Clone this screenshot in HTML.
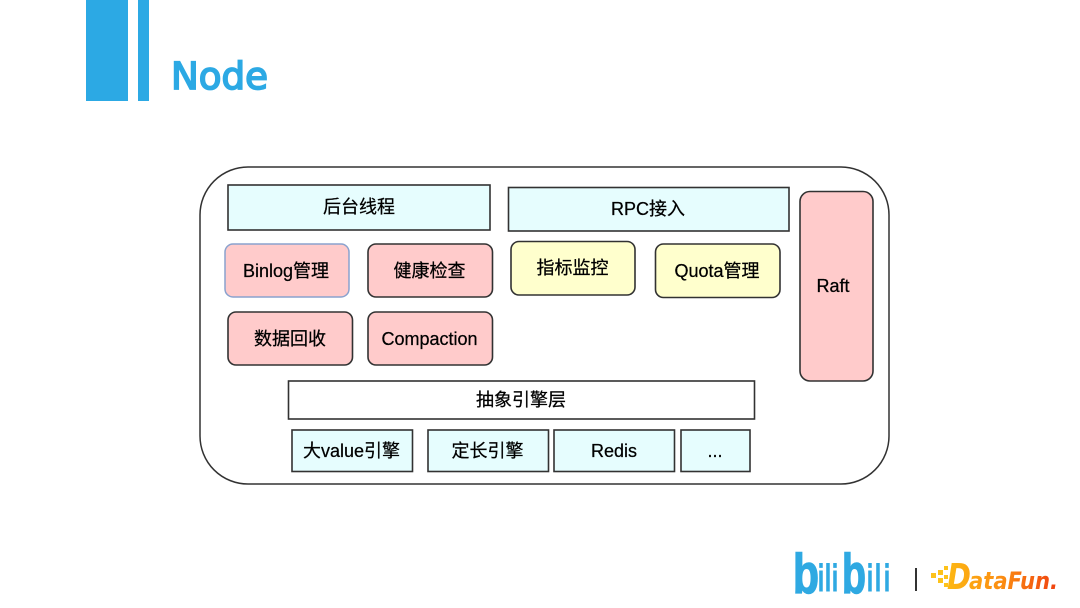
<!DOCTYPE html>
<html><head><meta charset="utf-8"><style>
html,body{margin:0;padding:0;background:#fff;width:1080px;height:608px;overflow:hidden}
svg{display:block}
.t{font-family:"Liberation Sans","Noto Sans CJK SC",sans-serif;font-size:18px;fill:#000;text-anchor:middle;stroke:#000;stroke-width:0.25}
.b{stroke:#333;stroke-width:1.6}
.bl{font-family:"Liberation Sans",sans-serif;font-weight:700;fill:#2fa9e2;stroke:#2fa9e2}
.df{font-family:"DejaVu Sans",sans-serif;font-weight:700;font-style:italic;fill:url(#g)}
</style></head><body>
<svg width="1080" height="608" viewBox="0 0 1080 608" xmlns="http://www.w3.org/2000/svg">
<defs>
<linearGradient id="g" gradientUnits="userSpaceOnUse" x1="947" x2="1058" y1="0" y2="0"><stop offset="0" stop-color="#fdb813"/><stop offset="0.5" stop-color="#fb8c12"/><stop offset="1" stop-color="#f0400f"/></linearGradient>
<filter id="s" filterUnits="userSpaceOnUse" x="190" y="160" width="710" height="335"><feGaussianBlur stdDeviation="0.35"/></filter>
<filter id="s2" filterUnits="userSpaceOnUse" x="190" y="160" width="710" height="335"><feGaussianBlur stdDeviation="0.25"/></filter>
</defs>
<rect x="86" y="0" width="42" height="101" fill="#2ca9e4"/>
<rect x="138" y="0" width="11" height="101" fill="#2ca9e4"/>
<text x="171" y="89" font-family="'DejaVu Sans',sans-serif" font-size="37" fill="#2ca9e4" stroke="#2ca9e4" stroke-width="1.7" textLength="97" lengthAdjust="spacingAndGlyphs">Node</text>

<g filter="url(#s)">
<rect x="200" y="167" width="689" height="317" rx="48" ry="48" fill="#fff" stroke="#333" stroke-width="1.5"/>
<rect class="b" x="228" y="185" width="262" height="45" fill="#e6fdfe"/>
<rect class="b" x="508.500" y="187.500" width="280.500" height="43.500" fill="#e6fdfe"/>
<rect x="225" y="244" width="124" height="53" rx="8" fill="#ffcbcb" stroke="#8aa2ce" stroke-width="1.5"/>
<rect class="b" x="368" y="244" width="124.500" height="53" rx="8" fill="#ffcbcb"/>
<rect class="b" x="228" y="312" width="124.500" height="53" rx="8" fill="#ffcbcb"/>
<rect class="b" x="368" y="312" width="124.500" height="53" rx="8" fill="#ffcbcb"/>
<rect class="b" x="511" y="241.500" width="124" height="53.500" rx="8" fill="#ffffcd"/>
<rect class="b" x="655.500" y="244" width="124.500" height="53.500" rx="8" fill="#ffffcd"/>
<rect class="b" x="800" y="191.500" width="73" height="189.500" rx="10" fill="#ffcbcb"/>
<rect class="b" x="288.500" y="381" width="466" height="38" fill="#fff"/>
<rect class="b" x="292" y="430" width="120.500" height="41.500" fill="#e6fdfe"/>
<rect class="b" x="428" y="430" width="120.500" height="41.500" fill="#e6fdfe"/>
<rect class="b" x="554" y="430" width="120.500" height="41.500" fill="#e6fdfe"/>
<rect class="b" x="681" y="430" width="69" height="41.500" fill="#e6fdfe"/>
</g>
<g filter="url(#s2)">
<text class="t" x="359" y="213">后台线程</text>
<text class="t" x="648" y="215">RPC接入</text>
<text class="t" x="286" y="277">Binlog管理</text>
<text class="t" x="429.500" y="277">健康检查</text>
<text class="t" x="290" y="345">数据回收</text>
<text class="t" x="429.500" y="345">Compaction</text>
<text class="t" x="572.500" y="274">指标监控</text>
<text class="t" x="717" y="277">Quota管理</text>
<text class="t" x="833" y="292">Raft</text>
<text class="t" x="521" y="406">抽象引擎层</text>
<text class="t" x="351.500" y="457">大value引擎</text>
<text class="t" x="487.500" y="457">定长引擎</text>
<text class="t" x="614" y="457">Redis</text>
<text class="t" x="715" y="457">...</text>
</g>

<text class="bl" x="793" y="593" font-size="56" textLength="26" lengthAdjust="spacingAndGlyphs" stroke-width="1.5">b</text>
<text class="bl" x="818" y="591" font-size="38" textLength="6" lengthAdjust="spacingAndGlyphs" stroke-width="1">i</text>
<text class="bl" x="825" y="591" font-size="38" textLength="6" lengthAdjust="spacingAndGlyphs" stroke-width="1">l</text>
<text class="bl" x="832" y="591" font-size="38" textLength="6" lengthAdjust="spacingAndGlyphs" stroke-width="1">i</text>
<text class="bl" x="842" y="593" font-size="56" textLength="24" lengthAdjust="spacingAndGlyphs" stroke-width="1.5">b</text>
<text class="bl" x="867" y="591" font-size="38" textLength="6" lengthAdjust="spacingAndGlyphs" stroke-width="1">i</text>
<text class="bl" x="875" y="591" font-size="38" textLength="6" lengthAdjust="spacingAndGlyphs" stroke-width="1">l</text>
<text class="bl" x="884" y="591" font-size="38" textLength="6" lengthAdjust="spacingAndGlyphs" stroke-width="1">i</text>
<rect x="915" y="568" width="2" height="23" fill="#333"/>
<g fill="#fdc21a">
<rect x="938" y="570" width="5" height="5"/><rect x="944" y="566" width="4" height="4"/>
<rect x="931" y="573" width="5" height="5"/><rect x="938" y="578" width="5" height="5"/>
<rect x="944" y="575" width="4" height="4"/><rect x="944" y="583" width="4" height="4"/>
</g>
<text class="df" x="947" y="589" font-size="36" textLength="24" lengthAdjust="spacingAndGlyphs">D</text>
<text class="df" x="969" y="589" font-size="24" textLength="89" lengthAdjust="spacingAndGlyphs">ataFun.</text>
</svg>
</body></html>
